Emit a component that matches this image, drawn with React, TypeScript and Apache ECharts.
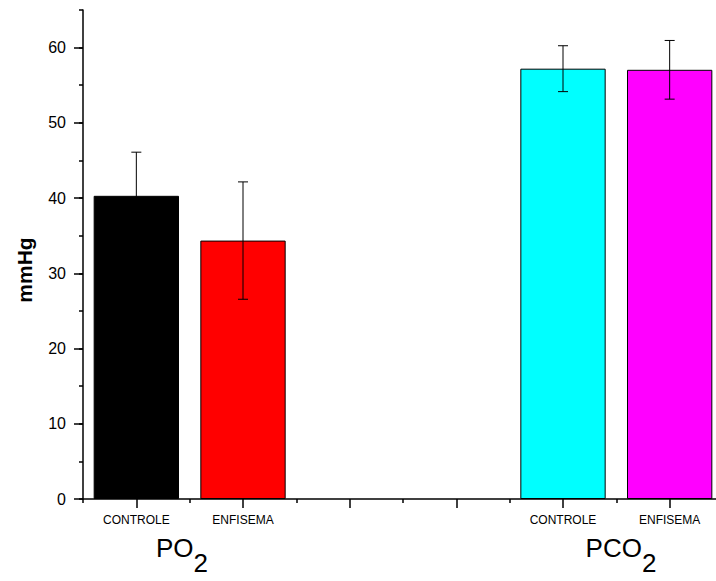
import React, { useEffect, useRef } from 'react';
import * as echarts from 'echarts';

const categories = ['CONTROLE', 'ENFISEMA', '', '', 'CONTROLE', 'ENFISEMA'];
const means: (number | null)[] = [40.3, 34.35, null, null, 57.2, 57.05];
const sds: (number | null)[] = [5.8, 7.8, null, null, 3.05, 3.9];
const barColors = ['#000000', '#ff0000', '#ffffff', '#ffffff', '#00ffff', '#ff00ff'];
const yMax = 65;
const yLabelMax = 60;
const yMajorInterval = 10;
const yMinorInterval = 5;
const groupTitles = [
  { main: 'PO', sub: '2' },
  { main: 'PCO', sub: '2' },
];
const axisTitle = 'mmHg';

const FONT = 'Liberation Sans, Arial, sans-serif';

export default function App() {
  const ref = useRef<HTMLDivElement>(null);
  useEffect(() => {
    if (!ref.current) return;
    const chart = echarts.init(ref.current, null, { renderer: 'svg' });
    const plotLeft = 83;
    const plotTop = 10;
    const plotBottom = 499;
    const plotWidth = 640;
    const plotHeight = plotBottom - plotTop;
    const grid2Top = plotTop + (plotHeight * (yMax - yLabelMax)) / yMax;

    const barData = means.map((m, i) =>
      m == null ? '-' : { value: m, itemStyle: { color: barColors[i] } }
    );
    const errData: number[][] = [];
    means.forEach((m, i) => {
      const s = sds[i];
      if (m != null && s != null) errData.push([i, m - s, m + s]);
    });

    const textWidth = (t: string, size: number) => {
      const c = document.createElement('canvas').getContext('2d')!;
      c.font = `${size}px ${FONT}`;
      return c.measureText(t).width;
    };

    const titleSize = 26;
    const titleCenters = [182, 621];
    const titleGraphics: any[] = [];
    groupTitles.forEach((g, k) => {
      const wMain = textWidth(g.main, titleSize);
      const wSub = textWidth(g.sub, titleSize);
      const left = titleCenters[k] - (wMain + wSub) / 2;
      titleGraphics.push({
        type: 'text',
        left: left,
        top: 535,
        style: { text: g.main, font: `${titleSize}px ${FONT}`, fill: '#000' },
      });
      titleGraphics.push({
        type: 'text',
        left: left + wMain,
        top: 550,
        style: { text: g.sub, font: `${titleSize}px ${FONT}`, fill: '#000' },
      });
    });

    chart.setOption({
      animation: false,
      backgroundColor: '#ffffff',
      grid: [
        { left: plotLeft, top: plotTop, width: plotWidth, height: plotHeight },
        { left: plotLeft, top: grid2Top, width: plotWidth, height: plotBottom - grid2Top },
      ],
      xAxis: [
        {
          type: 'category',
          gridIndex: 0,
          position: 'bottom',
          data: categories,
          axisLine: { show: true, lineStyle: { color: '#000', width: 1.5 } },
          axisTick: { show: true, alignWithLabel: true, length: 9, lineStyle: { color: '#000', width: 1.5 } },
          axisLabel: { show: true, interval: 0, fontSize: 12, color: '#000', fontFamily: FONT, margin: 15 },
          splitLine: { show: false },
        },
        {
          type: 'category',
          gridIndex: 0,
          position: 'bottom',
          offset: 0,
          data: categories,
          axisLine: { show: false },
          axisTick: { show: true, length: 4, lineStyle: { color: '#000', width: 1.5 } },
          axisLabel: { show: false },
          splitLine: { show: false },
        },
        {
          type: 'category',
          gridIndex: 1,
          data: categories,
          show: false,
        },
      ],
      yAxis: [
        {
          type: 'value',
          gridIndex: 0,
          min: 0,
          max: yMax,
          interval: yMinorInterval,
          axisLine: { show: true, lineStyle: { color: '#000', width: 1.5 } },
          axisTick: { show: true, length: 4, lineStyle: { color: '#000', width: 1.5 } },
          axisLabel: { show: false },
          splitLine: { show: false },
        },
        {
          type: 'value',
          gridIndex: 1,
          min: 0,
          max: yLabelMax,
          interval: yMajorInterval,
          axisLine: { show: false },
          axisTick: { show: true, length: 9, lineStyle: { color: '#000', width: 1.5 } },
          axisLabel: { show: true, fontSize: 16, color: '#000', fontFamily: FONT, margin: 17 },
          splitLine: { show: false },
        },
      ],
      series: [
        {
          type: 'bar',
          xAxisIndex: 0,
          yAxisIndex: 0,
          data: barData,
          barWidth: '80%',
          itemStyle: { borderColor: '#000', borderWidth: 1 },
        },
        {
          type: 'custom',
          xAxisIndex: 0,
          yAxisIndex: 0,
          data: errData,
          encode: { x: 0, y: [1, 2] },
          z: 5,
          renderItem: (params: any, api: any) => {
            const x = api.value(0);
            const lo = api.coord([x, api.value(1)]);
            const hi = api.coord([x, api.value(2)]);
            const hw = 5;
            const st = { stroke: '#000', lineWidth: 1 };
            return {
              type: 'group',
              children: [
                { type: 'line', shape: { x1: lo[0], y1: lo[1], x2: hi[0], y2: hi[1] }, style: st },
                { type: 'line', shape: { x1: hi[0] - hw, y1: hi[1], x2: hi[0] + hw, y2: hi[1] }, style: st },
                { type: 'line', shape: { x1: lo[0] - hw, y1: lo[1], x2: lo[0] + hw, y2: lo[1] }, style: st },
              ],
            };
          },
        },
      ],
      graphic: [
        {
          type: 'text',
          x: 24,
          y: 270,
          rotation: Math.PI / 2,
          style: {
            text: axisTitle,
            font: `bold 21px ${FONT}`,
            fill: '#000',
            align: 'center',
            verticalAlign: 'middle',
          },
        },
        ...titleGraphics,
      ],
    });
    return () => chart.dispose();
  }, []);
  return (
    <div
      ref={ref}
      style={{ position: 'fixed', left: 0, top: 0, width: 740, height: 581, background: '#fff' }}
    />
  );
}
